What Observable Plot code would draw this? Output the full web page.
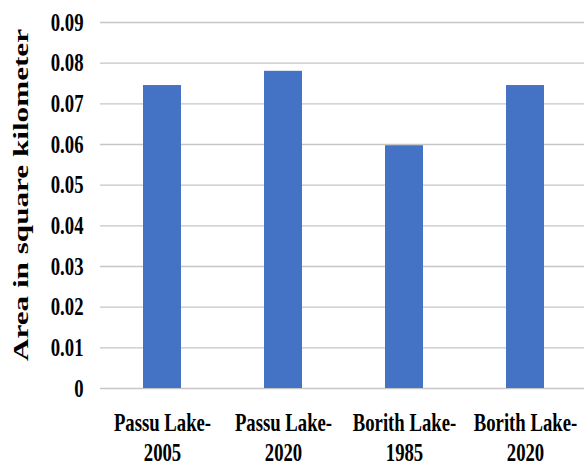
<!DOCTYPE html>
<html>
<head>
<meta charset="utf-8">
<script src="https://cdn.jsdelivr.net/npm/d3@7"></script>
<script src="https://cdn.jsdelivr.net/npm/@observablehq/plot@0.6"></script>
<style>
  html, body { margin: 0; padding: 0; background: #fff; }
</style>
</head>
<body>
<div id="chart"></div>
<script>
// Lake surface area by survey year
const lakes = ["Passu Lake-\n2005", "Passu Lake-\n2020", "Borith Lake-\n1985", "Borith Lake-\n2020"];
const areas = [0.0745, 0.078, 0.0597, 0.0745];
const yTicks = [0, 0.01, 0.02, 0.03, 0.04, 0.05, 0.06, 0.07, 0.08, 0.09];
const yTitle = "Area in square kilometer";

const data = lakes.map((lake, i) => ({lake, area: areas[i]}));
const serif = "'Liberation Serif', 'Times New Roman', serif";

const chart = Plot.plot({
  width: 584,
  height: 466,
  marginLeft: 100,
  marginRight: 0,
  marginTop: 22,
  marginBottom: 78,
  style: {fontFamily: serif, fontWeight: "bold", color: "#000", background: "#fff"},
  x: {domain: lakes, range: [100, 587], paddingInner: 0.685, paddingOuter: 0.3425},
  y: {domain: [0, 0.09]},
  marks: [
    Plot.ruleY(yTicks, {stroke: "#c6c6c6", strokeWidth: 1.4}),
    Plot.barY(data, {x: "lake", y: "area", fill: "#4472C4"}),
    Plot.axisY(yTicks, {
      tickSize: 0, tickPadding: 17, fontSize: 26, label: null,
      tickFormat: d => d === 0 ? "0" : d.toFixed(2)
    }),
    Plot.axisX({tickSize: 0, tickPadding: 21, fontSize: 26, lineHeight: 1.16, label: null}),
    Plot.text([yTitle], {
      text: d => d, frameAnchor: "left", rotate: -90, dx: -79, dy: -10.5,
      fontSize: 21.5, textAnchor: "middle", lineAnchor: "middle"
    })
  ]
});

// Narrow serif lettering: squeeze tick labels horizontally, stretch the title along its length
const svg = d3.select(chart);
svg.selectAll('g[aria-label="y-axis tick label"] text, g[aria-label="x-axis tick label"] text')
  .attr("transform", function () { return (this.getAttribute("transform") || "") + " scale(0.72,1)"; });
svg.selectAll('g[aria-label="text"] text')
  .attr("transform", function () { return (this.getAttribute("transform") || "") + " scale(1.45,1)"; });

document.getElementById("chart").appendChild(chart);
</script>
</body>
</html>
